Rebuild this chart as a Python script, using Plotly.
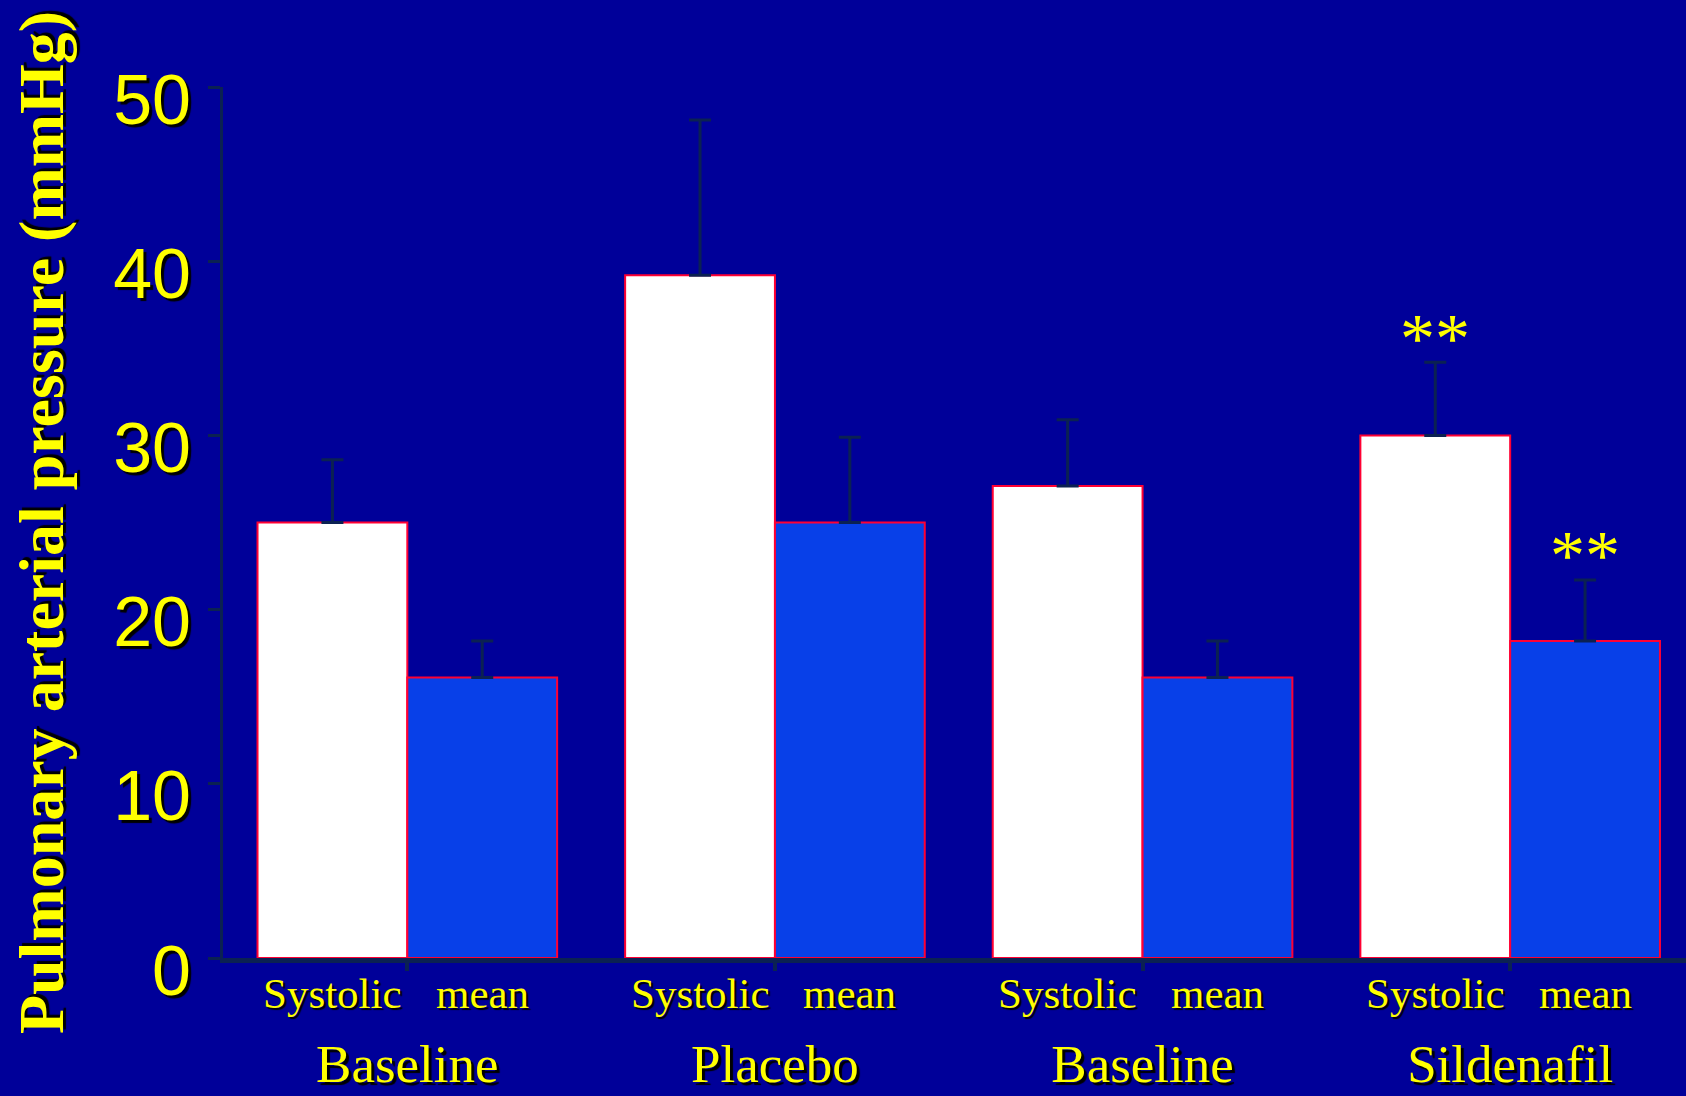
import plotly.graph_objects as go

# ---- data ----
groups = ["Baseline", "Placebo", "Baseline", "Sildenafil"]
measures = ["Systolic", "mean"]
systolic = [25.0, 39.2, 27.1, 30.0]
systolic_err = [3.6, 8.9, 3.8, 4.2]
mean_vals = [16.1, 25.0, 16.1, 18.2]
mean_err = [2.1, 4.9, 2.1, 3.5]
sig_systolic = ["", "", "", "**"]
sig_mean = ["", "", "", "**"]
y_ticks = [0, 10, 20, 30, 40, 50]
y_title = "Pulmonary arterial pressure (mmHg)"

# ---- style ----
BG = "#000099"
YELLOW = "#FFFF00"
DARK = "#0B2152"
RED = "#FF0033"
BLUE_BAR = "#0840E8"
SERIF = "Liberation Serif, Times New Roman, serif"
SANS = "Liberation Sans, Arial, sans-serif"
SHADOW = "3px 3px 1px #000000"
BARGAP = 0.185

xs = list(range(len(groups)))

fig = go.Figure()
for name, vals, errs, color in [
    (measures[0], systolic, systolic_err, "#FFFFFF"),
    (measures[1], mean_vals, mean_err, BLUE_BAR),
]:
    fig.add_trace(go.Bar(
        x=xs, y=vals, name=name,
        marker=dict(color=color, line=dict(color=RED, width=2)),
        error_y=dict(type="data", array=errs, arrayminus=[0] * len(errs),
                     symmetric=False, color=DARK, thickness=3, width=11),
        showlegend=False,
    ))

half = (1 - BARGAP) / 4
annotations = []
for i in xs:
    for lab, off in [(measures[0], -half), (measures[1], half)]:
        annotations.append(dict(
            x=i + off, xref="x", y=0, yref="paper", yanchor="middle",
            yshift=-35, text=lab, showarrow=False,
            font=dict(family=SERIF, size=43, color=YELLOW, shadow="2px 2px 1px #000000"),
        ))
    for txt, v, e, off in [(sig_systolic[i], systolic[i], systolic_err[i], -half),
                           (sig_mean[i], mean_vals[i], mean_err[i], half)]:
        if txt:
            annotations.append(dict(
                x=i + off, xref="x", y=v + e, yref="y", yanchor="middle",
                yshift=24, text=txt, showarrow=False,
                font=dict(family=SERIF, size=70, color=YELLOW),
            ))

fig.update_layout(
    width=1686, height=1096,
    paper_bgcolor=BG, plot_bgcolor=BG,
    margin=dict(l=223, r=0, t=87, b=138, autoexpand=False),
    barmode="group", bargap=BARGAP, bargroupgap=0,
    annotations=annotations,
    xaxis=dict(
        range=[-0.5014, 3.4783], tickvals=xs, ticktext=groups,
        ticks="outside", ticklen=8, tickwidth=4, tickcolor=DARK,
        showline=True, linecolor=DARK, linewidth=5,
        showgrid=False, zeroline=False, automargin=False,
        tickfont=dict(family=SERIF, size=53, color=YELLOW, shadow=SHADOW),
        ticklabelstandoff=47,
    ),
    yaxis=dict(
        range=[0, 50], tickvals=y_ticks,
        ticks="outside", ticklen=12, tickwidth=3, tickcolor=DARK,
        showline=True, linecolor=DARK, linewidth=3,
        showgrid=False, zeroline=False, automargin=False,
        tickfont=dict(family=SANS, size=70, color=YELLOW, shadow=SHADOW),
        ticklabelstandoff=3, ticklabelshift=12,
        title=dict(text=y_title, standoff=29,
                   font=dict(family=SERIF, size=64, color=YELLOW, weight="bold",
                             shadow=SHADOW)),
    ),
)

fig.write_html(
    "out.html",
    config={"displayModeBar": False},
    post_script="document.body.style.margin='0';document.body.style.background='#000099';",
)
